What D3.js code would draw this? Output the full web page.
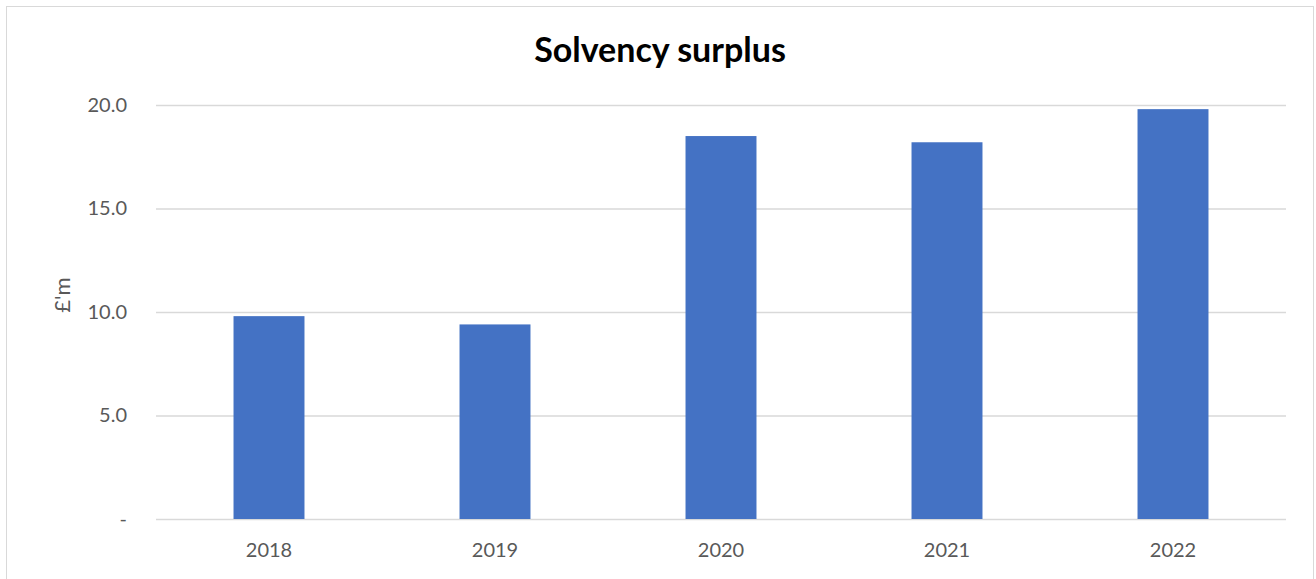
<!DOCTYPE html>
<head>
  <meta charset="utf-8">
  <script src="https://d3js.org/d3.v7.min.js"></script>
  <style>
body { margin: 0; background: white; }
svg { display: block; font-family: Lato, 'Open Sans', sans-serif; }
  </style>
</head>
<body>
<svg width="1316" height="579"></svg>
<script>
var years = ["2018", "2019", "2020", "2021", "2022"];
var surplus = [9.8, 9.4, 18.5, 18.2, 19.8];
var yTicks = [0, 5, 10, 15, 20];

var margin = {top: 105, right: 30, bottom: 60, left: 156};
var width = 1286 - margin.left;
var height = 519 - margin.top;

var svg = d3.select("svg");

// chart frame
svg.append("rect")
   .attr("x", 6.5).attr("y", 6.5)
   .attr("width", 1307).attr("height", 600)
   .style("fill", "white")
   .style("stroke", "#d9d9d9")
   .style("stroke-width", 1);

var g = svg.append("g")
           .attr("transform", "translate(" + margin.left + "," + margin.top + ")");

var x = d3.scaleBand()
          .domain(years)
          .range([0, width])
          .paddingInner(0.686)
          .paddingOuter(0.343);

var y = d3.scaleLinear()
          .domain([0, 20])
          .range([height, 0]);

// gridlines
g.selectAll(".grid")
 .data(yTicks)
 .enter()
 .append("line")
 .attr("x1", 0).attr("x2", width)
 .attr("y1", function(d) { return y(d) + 0.5; })
 .attr("y2", function(d) { return y(d) + 0.5; })
 .style("stroke", "#d9d9d9")
 .style("stroke-width", 1.5);

// bars
g.selectAll(".bar")
 .data(surplus)
 .enter()
 .append("rect")
 .attr("x", function(d, i) { return x(years[i]); })
 .attr("width", x.bandwidth())
 .attr("y", function(d) { return y(d); })
 .attr("height", function(d) { return height - y(d); })
 .style("fill", "#4472c4");

// y axis
var yAxis = d3.axisLeft(y)
              .tickValues(yTicks)
              .tickSize(0)
              .tickPadding(29)
              .tickFormat(function(d) { return d === 0 ? "-" : d3.format(".1f")(d); });
g.append("g").call(yAxis)
 .call(function(s) { s.select(".domain").remove(); })
 .selectAll("text")
 .style("font-size", "20px")
 .style("font-family", "Lato, sans-serif")
 .style("fill", "#595959");

// x axis
var xAxis = d3.axisBottom(x).tickSize(0).tickPadding(24);
g.append("g")
 .attr("transform", "translate(0," + height + ")")
 .call(xAxis)
 .call(function(s) { s.select(".domain").remove(); })
 .selectAll("text")
 .style("font-size", "20px")
 .style("font-family", "Lato, sans-serif")
 .style("fill", "#595959");

// title
svg.append("text")
   .attr("x", 660).attr("y", 62)
   .attr("text-anchor", "middle")
   .style("font-size", "34px")
   .style("font-weight", "bold")
   .style("fill", "#000")
   .text("Solvency surplus");

// y label
svg.append("text")
   .attr("transform", "translate(70,295) rotate(-90)")
   .attr("text-anchor", "middle")
   .style("font-size", "22px")
   .style("fill", "#595959")
   .text("£'m");
</script>
</body>
</html>
